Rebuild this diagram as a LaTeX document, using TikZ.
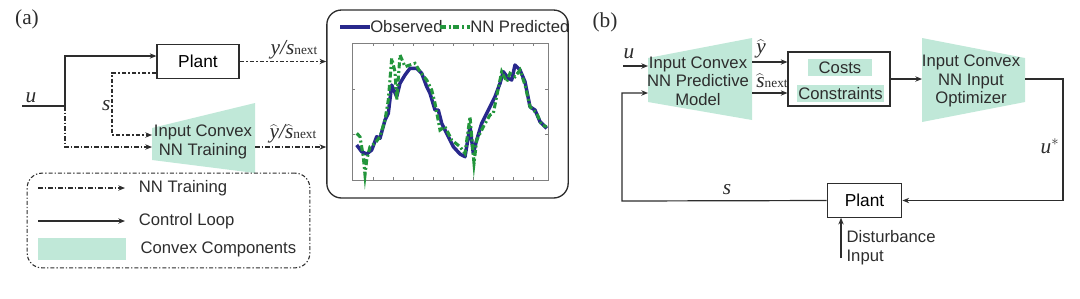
\documentclass[tikz,border=0pt]{standalone}
\usepackage{fontspec}
\setmainfont{Liberation Sans}
\newfontfamily\serif{Liberation Serif}
\usetikzlibrary{positioning,arrows.meta}

\definecolor{convex}{RGB}{192,232,216}
\definecolor{ink}{RGB}{45,45,45}
\definecolor{obsblue}{RGB}{40,40,140}
\definecolor{nngreen}{RGB}{35,150,60}

\tikzset{
  ctrl/.style={line width=0.9pt,draw=ink,-{Stealth[length=5pt,width=4pt]}},
  train/.style={ctrl,dash pattern=on 3.5pt off 1.5pt on 1pt off 1.5pt},
  plantbox/.style={draw=ink,line width=0.9pt,font=\fontsize{13}{15}\selectfont},
  lbl/.style={font=\serif\itshape\fontsize{16}{16}\selectfont,text=ink,inner sep=1pt},
  txt/.style={font=\fontsize{12.5}{14}\selectfont,text=ink,inner sep=1pt},
  tag/.style={font=\serif\fontsize{16}{16}\selectfont,text=ink},
  nnline/.style={nngreen,line width=2.3pt,dash pattern=on 4.5pt off 2pt on 1.5pt off 2pt}
}
\newcommand{\nxt}{{\upshape\fontsize{10}{10}\selectfont next}}
\newcommand{\hatit}[1]{$\widehat{\mbox{\serif\itshape #1}}$}

\begin{document}
\begin{tikzpicture}[x=0.75pt,y=-0.75pt]
\useasboundingbox (0,0) rectangle (1080,298);

% ---------- (a) ----------
\node[tag] (tagA) at (27,19) {(a)};
\node[plantbox,minimum width=61.5pt,minimum height=26pt] (plantA) at (198,61.5) {Plant};
\fill[convex] (152,128) -- (255,103) -- (255,173) -- (152,160) -- cycle;
\node[txt,align=center] (trainA) at (203,142) {Input Convex\\NN Training};

\coordinate (uA) at (22,106);
\coordinate (splitA) at (65,106);
\coordinate (sTurn) at (112,135);
\node[lbl,above] (uLblA) at (31,104) {u};
\draw[ctrl] (uA) -- (splitA) |- (plantA.west |- 0,56);
\draw[train] (splitA) |- (152,147);
\draw[train] (plantA.west |- 0,73) -| (sTurn) -- (152,135);
\node[lbl,left] (sLblA) at (112,106) {s};

% plot
\node[draw=ink,line width=1pt,rounded corners=11pt,minimum width=181pt,minimum height=141pt] (plotA) at (447.5,104) {};
\draw[train] (plantA.east) -- (plotA.west |- plantA.east);
\draw[train] (255,147) -- (plotA.west |- 0,147);
\node[lbl] (yLblA) at (294,50) {y/s\nxt};
\node[lbl] (yhLblA) at (293,134) {\hatit{y}/\hatit{s}\nxt};

\draw[gray,line width=0.5pt] (352,43) rectangle (548,180);
\foreach \x in {373,393,...,533} {
  \draw[gray,line width=0.4pt] (\x,180) -- (\x,177);
  \draw[gray,line width=0.4pt] (\x,43) -- (\x,46);
}
\foreach \y in {89,134} {
  \draw[gray,line width=0.4pt] (352,\y) -- (355,\y);
  \draw[gray,line width=0.4pt] (548,\y) -- (545,\y);
}
\draw[obsblue,line width=2.6pt,line join=round] plot coordinates {
  (356.7,145) (361.7,151.7) (366.7,154) (371.7,150) (376.7,136.7) (380,138.3)
  (385,120) (388.3,113.3) (391.7,85) (396.7,96.7) (400,83.3) (405,75)
  (410,68.3) (416.7,68.3) (421.7,73.3) (426.7,86.7) (430,93.3) (435,110)
  (438.3,110) (441.7,123.3) (448.3,136.7) (453.3,146.7) (460,154) (465,156.7)
  (470,126.7) (473.3,153.3) (476.7,140) (481.7,123.3) (486.7,113.3) (491.7,103.3)
  (495,96.7) (500,83.3) (503.3,71.7) (508.3,78.3) (511.7,80) (515,65)
  (520,70) (525,81.7) (530,106.7) (535,110) (540,121.7) (546.7,128.3)};
\draw[nnline] plot coordinates {
  (356.7,133.3) (360,136.7) (363.3,156.7) (365,175) (366.7,160) (370,146.7)
  (375,143.3) (380,136.7) (385,120) (388.3,100) (391.7,58.3) (395,71.7)
  (396.7,100) (400,55) (405,66.7) (410,65) (415,63.3) (420,71.7)
  (426.7,80) (431.7,90) (435,103.3) (440,130) (445,126.7) (451.7,140)
  (460,146.7) (465,153.3) (470,116.7) (474,163.3) (476.7,140) (483.3,126.7)
  (490,115) (493.3,113.3) (498.3,88.3) (501.7,71.7) (506.7,81.7) (510,73.3)
  (515,76.7) (520,70) (525,85) (530,106.7) (536.7,113.3) (541.7,125) (546.7,126.7)};
\draw[obsblue,line width=2.6pt] (340,27) -- (370,27);
\node[txt,anchor=west,inner sep=0pt] (obsLbl) at (370,27) {Observed};
\draw[nnline] (440,27) -- (470,27);
\node[txt,anchor=west,inner sep=0pt] (nnLbl) at (470,27) {NN Predicted};

% legend
\node[draw=ink,line width=0.8pt,dash pattern=on 3pt off 1.5pt on 1pt off 1.5pt,rounded corners=11pt,minimum width=212pt,minimum height=71pt] (legA) at (168.5,220.5) {};
\coordinate (legT1) at (38,188);
\coordinate (legC1) at (38,221);
\draw[train] (legT1) -- ++(87,0) node[txt,anchor=west,right=9pt] (legT) {NN Training};
\draw[ctrl] (legC1) -- ++(87,0) node[txt,anchor=west,right=9pt] (legC) {Control Loop};
\fill[convex] (38,238) rectangle (126,260);
\node[txt,anchor=west] (legV) at (139,249) {Convex Components};

% ---------- (b) ----------
\node[tag] (tagB) at (605,22) {(b)};
\fill[convex] (648,58) -- (752,38) -- (752,120) -- (648,102) -- cycle;
\node[txt,align=center] (predB) at (698,81) {Input Convex\\NN Predictive\\Model};
\node[draw=ink,line width=0.9pt,minimum width=76.5pt,minimum height=40.5pt] (costB) at (839,79) {};
\node[txt,fill=convex,minimum width=48pt,minimum height=12.75pt] (costs) at (840,67.5) {Costs};
\node[txt,fill=convex,minimum width=64pt,minimum height=12.75pt] (cons) at (840.5,93.5) {Constraints};
\fill[convex] (922,38) -- (1025,58) -- (1025,102) -- (922,122) -- cycle;
\node[txt,align=center] (optB) at (971,81) {Input Convex\\NN Input\\Optimizer};
\node[plantbox,minimum width=56pt,minimum height=25pt] (plantB) at (864.5,200.5) {Plant};

\coordinate (uB) at (623,66);
\coordinate (fbB) at (622,201);
\coordinate (outB) at (1063,79);
\coordinate (distB) at (841,258);
\node[lbl,above] (uLblB) at (629,60) {u};
\draw[ctrl] (uB) -- (648,66);
\draw[ctrl] (plantB.west) -- (fbB) |- (648,93);
\node[lbl] (sLblB) at (727,190) {s};
\draw[ctrl] (752,62) -- (costB.west |- 0,62);
\draw[ctrl] (752,93) -- (costB.west |- 0,93);
\node[lbl] (yhLblB) at (761,49) {\hatit{y}};
\node[lbl] (shLblB) at (772,81) {\hatit{s}\nxt};
\draw[ctrl] (costB.east) -- (922,79);
\draw[ctrl] (1025,79) -- (outB) |- (plantB.east);
\node[lbl] (usLbl) at (1050,146) {u$^{*}$};
\draw[ctrl] (distB) -- (plantB.south -| distB);
\node[txt,align=left,anchor=west] (distLbl) at (845,248) {Disturbance\\Input};
\end{tikzpicture}
\end{document}
